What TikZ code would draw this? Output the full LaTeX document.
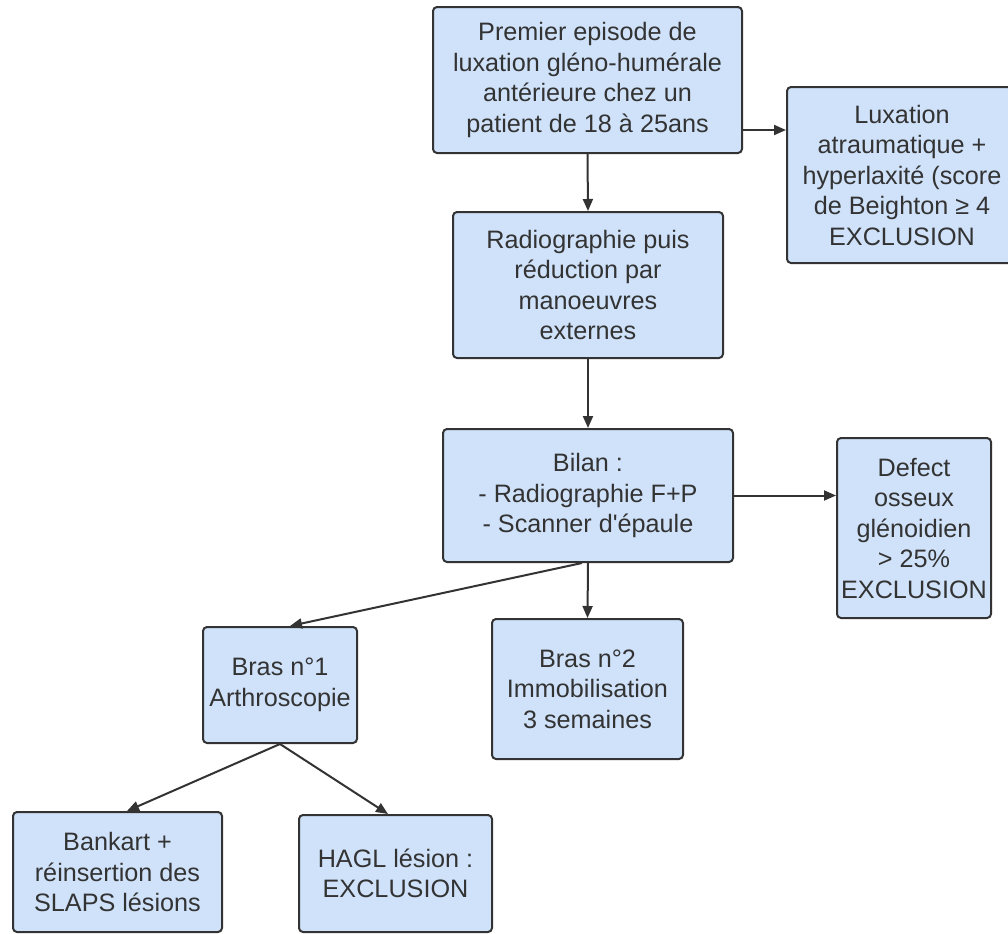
\documentclass[tikz,border=0pt]{standalone}
\usepackage{fontspec}
\setmainfont{Liberation Sans}
\newfontfamily\boxfont{Liberation Sans}
\usetikzlibrary{arrows.meta}
\usepackage{xcolor}
\definecolor{boxblue}{HTML}{CFE2FA}
\definecolor{inkgrey}{HTML}{333333}

\begin{document}
\begin{tikzpicture}[
        x=0.5pt, y=-0.5pt,
        box/.style={draw=inkgrey, line width=1pt, fill=boxblue, rounded corners=2pt,
          align=center, inner sep=1pt, text=inkgrey,
          font=\boxfont\fontsize{12.6}{15.25}\selectfont},
        arrow/.style={-{Triangle[length=6pt, width=5pt]}, line width=1pt, draw=inkgrey},
      ]
      \useasboundingbox (0,0) rectangle (1008,933);

      % === first episode ===
      \node[box, minimum width=154.5pt, minimum height=73pt] (prem) at (587.5, 80)
        {Premier episode de\\luxation gléno-humérale\\antérieure chez un\\patient de 18 à 25ans};
      \node[box, minimum width=115pt, minimum height=88pt] (luxa) at (902, 175)
        {Luxation\\atraumatique +\\hyperlaxité (score\\de Beighton ≥ 4\\EXCLUSION};
      \node[box, minimum width=135pt, minimum height=73pt] (radio) at (588, 285)
        {Radiographie puis\\réduction par\\manoeuvres\\externes};

      % === bilan ===
      \node[box, minimum width=145pt, minimum height=66.5pt] (bilan) at (588, 495.5)
        {Bilan :\\- Radiographie F+P\\- Scanner d'épaule};
      \node[box, minimum width=77pt, minimum height=90pt] (defect) at (914, 528)
        {Defect\\osseux\\glénoidien\\> 25\%\\EXCLUSION};

      % === bras ===
      \node[box, minimum width=77pt, minimum height=58pt] (bras1) at (280, 685)
        {Bras n°1\\Arthroscopie};
      \node[box, minimum width=95.5pt, minimum height=70pt] (bras2) at (587.5, 689)
        {Bras n°2\\Immobilisation\\3 semaines};
      \node[box, minimum width=104.5pt, minimum height=60pt] (bankart) at (117.5, 872)
        {Bankart +\\réinsertion des\\SLAPS lésions};
      \node[box, minimum width=96.5pt, minimum height=58.5pt] (hagl) at (395.5, 873.5)
        {HAGL lésion :\\EXCLUSION};

      \draw[arrow] (prem.south) -- (radio.north);
      \draw[arrow] ([yshift=-25pt]prem.east) -- ([yshift=-25pt]prem.east -| luxa.west);
      \draw[arrow] (radio.south) -- (bilan.north);
      \draw[arrow] (bilan.east) -- (bilan.east -| defect.west);
      \draw[arrow] (bilan.south) -- (bras2.north);
      \draw[arrow] ([xshift=-3pt]bilan.south) -- ([xshift=5pt]bras1.north);
      \draw[arrow] (bras1.south) -- ([xshift=4.75pt]bankart.north);
      \draw[arrow] (bras1.south) -- ([xshift=-3.75pt]hagl.north);

      \end{tikzpicture}
\end{document}
